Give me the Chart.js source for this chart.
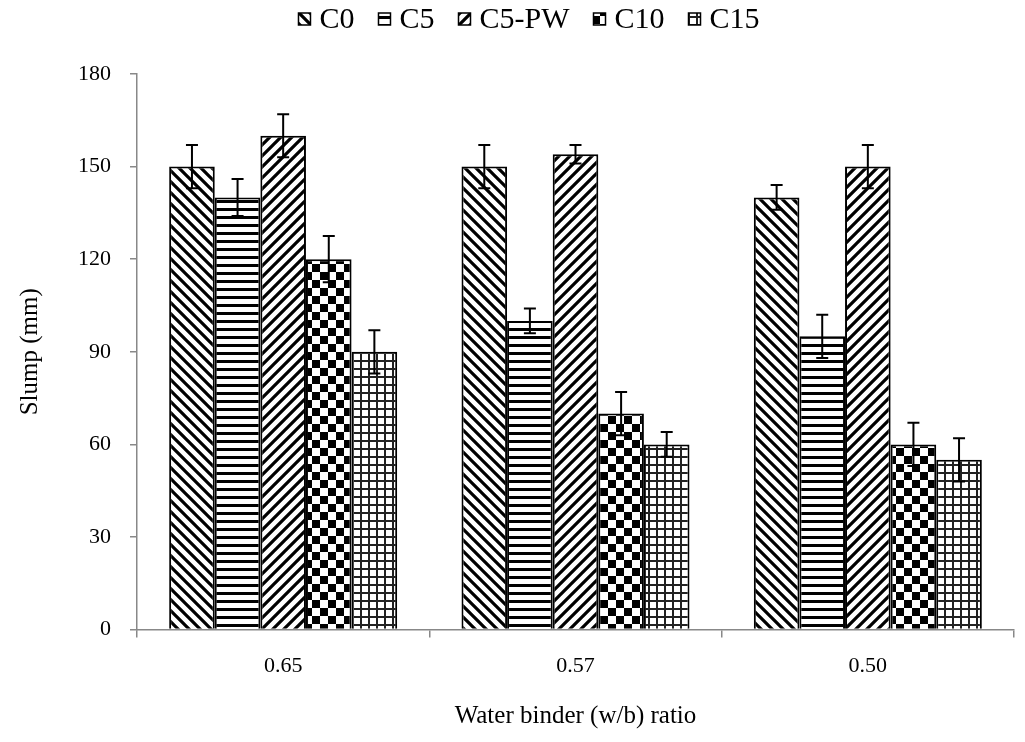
<!DOCTYPE html>
<html>
<head>
<meta charset="utf-8">
<script src="https://cdn.jsdelivr.net/npm/chart.js@4.4.1/dist/chart.umd.min.js"></script>
<style>
  html, body { margin: 0; padding: 0; background: #fff; }
  #wrap { width: 1025px; height: 742px; }
</style>
</head>
<body>
<div id="wrap"><canvas id="chart-slump"></canvas></div>
<script>
var ratios = ['0.65', '0.57', '0.50'];
var mixes = ['C0', 'C5', 'C5-PW', 'C10', 'C15'];

var slumpC0 = [150, 150, 140];
var slumpC5 = [140, 100, 95];
var slumpC5PW = [160, 154, 150];
var slumpC10 = [120, 70, 60];
var slumpC15 = [90, 60, 55];

var errC0 = [7, 7, 4];
var errC5 = [6, 4, 7];
var errC5PW = [7, 3, 7];
var errC10 = [7.5, 7, 7];
var errC15 = [7, 4, 7];

var yTicks = [0, 30, 60, 90, 120, 150, 180];

var serif = "'Liberation Serif', 'Times New Roman', serif";

function makePattern(kind) {
    var c = document.createElement('canvas');
    var g = c.getContext('2d');
    var s;
    if (kind === 'back' || kind === 'fwd') {
        s = 11;
        c.width = s; c.height = s;
        g.fillStyle = '#fff'; g.fillRect(0, 0, s, s);
        g.strokeStyle = '#000'; g.lineWidth = 3.2;
        g.beginPath();
        if (kind === 'back') {
            g.moveTo(0, -s); g.lineTo(2 * s, s);
            g.moveTo(-s, -s); g.lineTo(s, s);
            g.moveTo(-s, 0); g.lineTo(s, 2 * s);
        } else {
            g.moveTo(0, s); g.lineTo(s, 0);
            g.moveTo(-s, s); g.lineTo(s, -s);
            g.moveTo(0, 2 * s); g.lineTo(2 * s, 0);
        }
        g.stroke();
    } else if (kind === 'horiz') {
        s = 8;
        c.width = s; c.height = s;
        g.fillStyle = '#fff'; g.fillRect(0, 0, s, s);
        g.fillStyle = '#000'; g.fillRect(0, 0, s, 3);
    } else if (kind === 'check') {
        s = 16;
        c.width = s; c.height = s;
        g.fillStyle = '#fff'; g.fillRect(0, 0, s, s);
        g.fillStyle = '#000';
        g.fillRect(0, 0, 8, 8);
        g.fillRect(8, 8, 8, 8);
    } else {
        s = 8;
        c.width = s; c.height = s;
        g.fillStyle = '#fff'; g.fillRect(0, 0, s, s);
        g.fillStyle = '#222';
        g.fillRect(0, 0, s, 2);
        g.fillRect(0, 0, 2, s);
    }
    return g.createPattern(c, 'repeat');
}

var fills = [makePattern('back'), makePattern('horiz'), makePattern('fwd'), makePattern('check'), makePattern('grid')];
var series = [slumpC0, slumpC5, slumpC5PW, slumpC10, slumpC15];
var errors = [errC0, errC5, errC5PW, errC10, errC15];

var datasets = mixes.map(function(name, i) {
    return {
        label: name,
        data: series[i],
        errors: errors[i],
        backgroundColor: fills[i],
        borderColor: '#000',
        borderWidth: 2,
        borderSkipped: 'bottom',
        barPercentage: 1,
        categoryPercentage: 0.78
    };
});

// whiskers above and below every bar
var errorBars = {
    id: 'errorBars',
    afterDatasetsDraw: function(chart) {
        var ctx = chart.ctx;
        var y = chart.scales.y;
        ctx.save();
        ctx.strokeStyle = '#000';
        ctx.lineWidth = 2;
        chart.data.datasets.forEach(function(ds, i) {
            var meta = chart.getDatasetMeta(i);
            meta.data.forEach(function(bar, j) {
                var v = ds.data[j], e = ds.errors[j];
                var top = y.getPixelForValue(v + e);
                var bot = y.getPixelForValue(v - e);
                var x = bar.x;
                ctx.beginPath();
                ctx.moveTo(x, top); ctx.lineTo(x, bot);
                ctx.moveTo(x - 6, top); ctx.lineTo(x + 6, top);
                ctx.moveTo(x - 6, bot); ctx.lineTo(x + 6, bot);
                ctx.stroke();
            });
        });
        ctx.restore();
    }
};

// compact legend row across the top: small patterned box, then the name
var topLegend = {
    id: 'topLegend',
    afterDraw: function(chart) {
        var ctx = chart.ctx;
        var box = 12, gap = 9, spacing = 24, cy = 19;
        ctx.save();
        ctx.font = '30px ' + serif;
        ctx.textBaseline = 'middle';
        var widths = chart.data.datasets.map(function(ds) { return ctx.measureText(ds.label).width; });
        var total = 0;
        widths.forEach(function(w) { total += box + gap + w; });
        total += spacing * (widths.length - 1);
        var x = 529 - total / 2;
        chart.data.datasets.forEach(function(ds, i) {
            ctx.fillStyle = ds.backgroundColor;
            ctx.fillRect(x, cy - box / 2, box, box);
            ctx.strokeStyle = '#000';
            ctx.lineWidth = 1.5;
            ctx.strokeRect(x, cy - box / 2, box, box);
            ctx.fillStyle = '#000';
            ctx.fillText(ds.label, x + box + gap, cy + 1);
            x += box + gap + widths[i] + spacing;
        });
        ctx.restore();
    }
};

new Chart(document.getElementById('chart-slump'), {
    type: 'bar',
    data: { labels: ratios, datasets: datasets },
    plugins: [errorBars, topLegend],
    options: {
        responsive: true,
        maintainAspectRatio: false,
        animation: false,
        layout: { padding: { top: 74, right: 11, bottom: 11, left: 15 } },
        plugins: {
            legend: { display: false },
            tooltip: { enabled: false }
        },
        scales: {
            x: {
                grid: { drawOnChartArea: false, color: '#888', tickLength: 8, lineWidth: 1.5 },
                border: { color: '#888', width: 1.5 },
                ticks: { color: '#000', font: { family: serif, size: 22 }, padding: 15 },
                title: {
                    display: true,
                    text: 'Water binder (w/b) ratio',
                    color: '#000',
                    font: { family: serif, size: 25 },
                    padding: { top: 7, bottom: 0 }
                }
            },
            y: {
                min: 0,
                max: 180,
                afterBuildTicks: function(axis) {
                    axis.ticks = yTicks.map(function(v) { return { value: v }; });
                },
                grid: { drawOnChartArea: false, color: '#888', tickLength: 7, lineWidth: 1.5 },
                border: { color: '#888', width: 1.5 },
                ticks: { color: '#000', font: { family: serif, size: 22 }, padding: 19 },
                title: {
                    display: true,
                    text: 'Slump (mm)',
                    color: '#000',
                    font: { family: serif, size: 25 },
                    padding: { top: 0, bottom: 14 }
                }
            }
        }
    }
});
</script>
</body>
</html>
